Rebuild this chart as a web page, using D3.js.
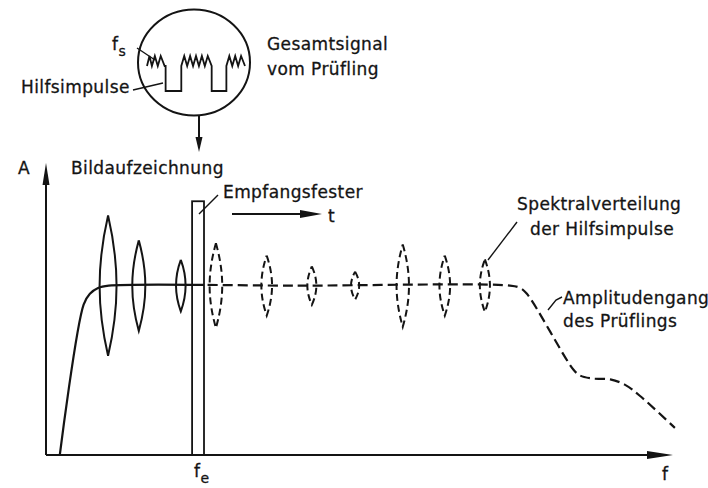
<!doctype html>
<meta charset="utf-8">
<style>
body { margin: 0; background: #fff; }
#chart text {
    font-family: "DejaVu Sans", sans-serif;
    font-size: 17px;
    letter-spacing: 0.4px;
    fill: #141414;
    stroke: #141414;
    stroke-width: 0.3px;
}
#chart .sub { font-size: 14px; }
</style>
<div id="chart"></div>
<script src="https://cdn.jsdelivr.net/npm/d3@7"></script>
<script>
/* DATA */

// spectral lines of the auxiliary pulses: frequency and half amplitude
var lensFreq = [9.9, 14.8, 21.5, 27.1, 35.2, 42.4, 49.3, 56.9, 63.6, 70.0];
var lensAmp = [24.0, 15.5, 8.8, 14.5, 10.3, 6.6, 4.8, 14.1, 10.3, 9.0];

// amplitude response of the device under test
var respFreq = [2.2, 6.0, 7.0, 8.3, 10.0, 40, 74, 75.6, 76.7, 84.1, 85.2, 87.1, 90, 92.3, 94.7, 100.3];
var respAmp = [0, 51.5, 55.2, 57.2, 58, 58, 58, 57.2, 55.2, 29.3, 27.2, 26.2, 25.9, 24.1, 20.3, 9.3];

// receive window
var windowFreq = [23.3, 25.2];
var windowTop = 86.9;

// composite signal in the inset (time, level)
var waveT = [0, 2.5, 5, 8, 11, 14, 18, 19, 19, 35, 35, 38, 41, 44, 47, 50, 53, 56, 59, 62, 66, 66, 81, 81, 84, 87, 90, 93, 96, 100];
var waveV = [10, 14, 10, 14, 10, 14, 10, 10, 0, 0, 10, 14, 10, 14, 10, 14, 10, 14, 10, 14, 10, 0, 0, 10, 14, 10, 14, 10, 14, 10];
</script>
<script>
var width = 708;
var height = 488;

var svg = d3.select('#chart').append('svg')
    .attr('width', width)
    .attr('height', height)
    .style('display', 'block');

var x = d3.scaleLinear().domain([0, 100]).range([46, 673]);
var y = d3.scaleLinear().domain([0, 100]).range([455, 163]);
var lensWidth = d3.scaleLinear().domain([0, 25]).range([3, 8.7]);

var ink = '#141414';

function arrowHead (g, tipX, tipY, dir, len, half) {
    // dir: 'up', 'down', 'right'
    var pts;
    if (dir === 'up') pts = [[tipX, tipY], [tipX - half, tipY + len], [tipX + half, tipY + len]];
    if (dir === 'down') pts = [[tipX, tipY], [tipX - half, tipY - len], [tipX + half, tipY - len]];
    if (dir === 'right') pts = [[tipX, tipY], [tipX - len, tipY - half], [tipX - len, tipY + half]];
    g.append('path')
        .attr('d', d3.line()(pts) + 'Z')
        .attr('fill', ink);
}

/* AXES */
var axes = svg.append('g').attr('stroke', ink).attr('stroke-width', 2);
axes.append('line')
    .attr('x1', x(0)).attr('x2', x(100) - 20)
    .attr('y1', y(0)).attr('y2', y(0));
axes.append('line')
    .attr('x1', x(0)).attr('x2', x(0))
    .attr('y1', y(0)).attr('y2', y(100) + 18);
arrowHead(svg, x(100), y(0), 'right', 26, 4);
arrowHead(svg, x(0), y(100), 'up', 22, 3.5);

/* RESPONSE CURVE: solid left of the window, dashed right of it */
var resp = respFreq.map(function (f, i) { return [f, respAmp[i]]; });
var respLine = d3.line()
    .x(function (d) { return x(d[0]); })
    .y(function (d) { return y(d[1]); })
    .curve(d3.curveCatmullRom.alpha(0.5));

var defs = svg.append('defs');
defs.append('clipPath').attr('id', 'leftClip').append('rect')
    .attr('x', 0).attr('y', 0)
    .attr('width', x(windowFreq[1])).attr('height', height);
defs.append('clipPath').attr('id', 'rightClip').append('rect')
    .attr('x', x(windowFreq[1]) + 2).attr('y', 0)
    .attr('width', width).attr('height', height);

svg.append('path')
    .attr('d', respLine(resp))
    .attr('clip-path', 'url(#leftClip)')
    .attr('fill', 'none').attr('stroke', ink).attr('stroke-width', 2.2);
svg.append('path')
    .attr('d', respLine(resp))
    .attr('clip-path', 'url(#rightClip)')
    .attr('fill', 'none').attr('stroke', ink).attr('stroke-width', 2.2)
    .attr('stroke-dasharray', '10,5');

/* SPECTRAL LINES (pointed lens shapes) */
var lensLevel = 58;
svg.append('g').selectAll('path.lens')
    .data(lensFreq.map(function (f, i) { return { f: f, a: lensAmp[i] }; }))
    .enter().append('path')
    .attr('class', 'lens')
    .attr('d', function (d) {
        var cx = x(d.f);
        var mid = y(lensLevel);
        var top = y(lensLevel + d.a);
        var bot = y(lensLevel - d.a);
        var h = mid - top;
        var k = lensWidth(d.a) * 4 / 3;
        var p = d3.path();
        p.moveTo(cx, top);
        p.bezierCurveTo(cx + k, mid - 0.3 * h, cx + k, mid + 0.3 * h, cx, bot);
        p.bezierCurveTo(cx - k, mid + 0.3 * h, cx - k, mid - 0.3 * h, cx, top);
        return p.toString();
    })
    .attr('fill', 'none')
    .attr('stroke', ink)
    .attr('stroke-width', 2)
    .attr('stroke-dasharray', function (d) { return d.f > windowFreq[1] ? '7,4' : null; });

/* RECEIVE WINDOW */
svg.append('rect')
    .attr('x', x(windowFreq[0]))
    .attr('y', y(windowTop))
    .attr('width', x(windowFreq[1]) - x(windowFreq[0]))
    .attr('height', y(0) - y(windowTop))
    .attr('fill', 'none')
    .attr('stroke', ink)
    .attr('stroke-width', 1.8);

// time arrow
svg.append('line')
    .attr('x1', 232).attr('x2', 302)
    .attr('y1', 214).attr('y2', 214)
    .attr('stroke', ink).attr('stroke-width', 1.8);
arrowHead(svg, 322, 214, 'right', 22, 4);

/* INSET: composite signal */
var ix = d3.scaleLinear().domain([0, 100]).range([147, 245]);
var iy = d3.scaleLinear().domain([0, 14]).range([91, 56]);

svg.append('ellipse')
    .attr('cx', 194).attr('cy', 62.5)
    .attr('rx', 56).attr('ry', 53)
    .attr('fill', 'none').attr('stroke', ink).attr('stroke-width', 2);

svg.append('path')
    .attr('d', d3.line()
        .x(function (d, i) { return ix(waveT[i]); })
        .y(function (d) { return iy(d); })(waveV))
    .attr('fill', 'none').attr('stroke', ink)
    .attr('stroke-width', 1.8).attr('stroke-linejoin', 'miter');

svg.append('line')
    .attr('x1', 199).attr('x2', 199)
    .attr('y1', 115).attr('y2', 138)
    .attr('stroke', ink).attr('stroke-width', 2);
arrowHead(svg, 199, 152, 'down', 15, 3.5);

/* LEADER LINES */
var leaders = [
    [[137, 48], [155, 60]],
    [[133, 90], [163, 83]],
    [[199, 214], [218, 195]],
    [[488, 260], [517, 222]],
    [[548, 310], [556, 300], [562, 297]]
];
svg.append('g').selectAll('path')
    .data(leaders).enter().append('path')
    .attr('d', function (d) { return d3.line()(d); })
    .attr('fill', 'none').attr('stroke', ink).attr('stroke-width', 1.4);

/* LABELS */
function label (txt, lx, ly) {
    return svg.append('text').attr('x', lx).attr('y', ly).text(txt);
}
var fs = svg.append('text').attr('x', 112).attr('y', 50);
fs.append('tspan').text('f');
fs.append('tspan').attr('class', 'sub').attr('dy', 6).text('s');

label('Hilfsimpulse', 21, 93);
label('Gesamtsignal', 267, 50);
label('vom Prüfling', 267, 75);
label('A', 18, 174);
label('Bildaufzeichnung', 71, 174);
label('Empfangsfester', 223, 198);
label('t', 328, 222);
label('Spektralverteilung', 517, 210);
label('der Hilfsimpulse', 530, 235);
label('Amplitudengang', 563, 304);
label('des Prüflings', 563, 327);

var fe = svg.append('text').attr('x', 194).attr('y', 477);
fe.append('tspan').text('f');
fe.append('tspan').attr('class', 'sub').attr('dy', 6).text('e');

label('f', 662, 480);
</script>
